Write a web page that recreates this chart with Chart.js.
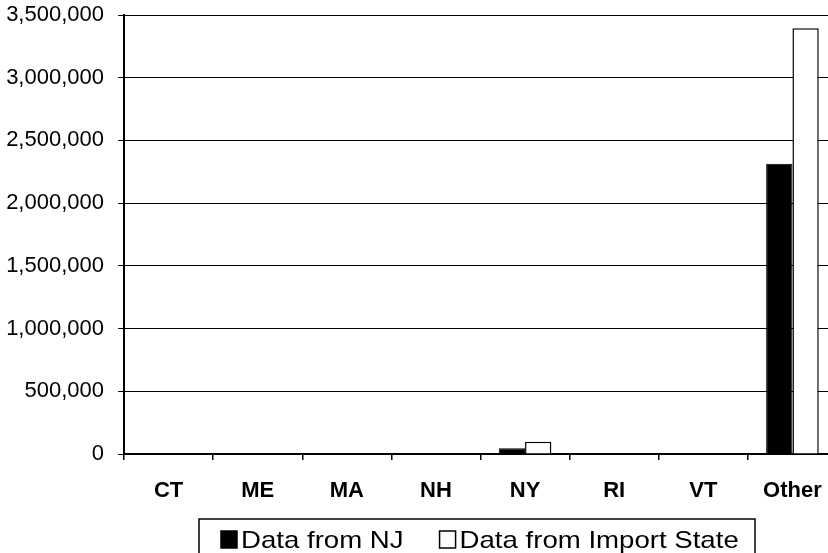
<!DOCTYPE html>
<html>
<head>
<meta charset="utf-8">
<script src="https://cdn.jsdelivr.net/npm/chart.js@4"></script>
<style>
  html, body { margin: 0; padding: 0; background: #fff; overflow: hidden; }
  #canva { width: 840px; height: 553px; }
</style>
</head>
<body>
<div id="canva"><canvas id="myChart" width="840" height="553"></canvas></div>
<script>
var estados = ['CT', 'ME', 'MA', 'NH', 'NY', 'RI', 'VT', 'Other'];
var datosNJ = [0, 0, 0, 0, 45000, 0, 0, 2315000];
var datosImport = [0, 0, 0, 0, 98000, 0, 0, 3395000];
var marcasY = [0, 500000, 1000000, 1500000, 2000000, 2500000, 3000000, 3500000];

// legend drawn by hand, with a frame like the original
const leyenda = {
    id: 'leyenda',
    afterDraw: function (chart) {
        const ctx = chart.ctx;
        const area = chart.chartArea;
        const ancho = 556;
        const x0 = 199;
        const y0 = area.bottom + 65;
        ctx.save();
        ctx.strokeStyle = '#000';
        ctx.lineWidth = 1.5;
        ctx.strokeRect(x0, y0, ancho, 60);
        ctx.font = '24px "Liberation Sans", Arial, sans-serif';
        ctx.textBaseline = 'alphabetic';
        ctx.fillStyle = '#000';
        var x = x0 + 22;
        var base = y0 + 29;
        chart.data.datasets.forEach(function (ds, i) {
            ctx.fillStyle = ds.backgroundColor;
            ctx.fillRect(x, base - 17, 16, 17);
            ctx.strokeStyle = '#000';
            ctx.lineWidth = 1.5;
            ctx.strokeRect(x, base - 17, 16, 17);
            x += 20;
            ctx.save();
            ctx.translate(x, base);
            ctx.scale(1.15, 1);
            ctx.fillStyle = '#000';
            ctx.fillText(ds.label, 0, 0);
            ctx.restore();
            x += ctx.measureText(ds.label).width * 1.15 + 36;
        });
        ctx.restore();
    }
};

const ctx = document.getElementById('myChart').getContext('2d');
const myChart = new Chart(ctx, {
    type: 'bar',
    data: {
        labels: estados,
        datasets: [{
            label: 'Data from NJ',
            data: datosNJ,
            backgroundColor: '#000000',
            borderColor: '#000000',
            borderWidth: 1
        }, {
            label: 'Data from Import State',
            data: datosImport,
            backgroundColor: '#ffffff',
            borderColor: '#000000',
            borderWidth: 1.5
        }]
    },
    options: {
        responsive: false,
        animation: false,
        devicePixelRatio: 1,
        layout: { padding: { top: 15, right: 3, bottom: 39, left: 0 } },
        datasets: {
            bar: { categoryPercentage: 0.59, barPercentage: 1.0 }
        },
        plugins: {
            legend: { display: false },
            tooltip: { enabled: false }
        },
        scales: {
            x: {
                grid: {
                    offset: true,
                    drawOnChartArea: false,
                    color: '#000',
                    tickLength: 6,
                    lineWidth: 1.5
                },
                border: { color: '#000', width: 2 },
                ticks: {
                    color: '#000',
                    padding: 18,
                    maxRotation: 0,
                    font: { family: '"Liberation Sans", Arial, sans-serif', size: 22, weight: 'bold' }
                },
                afterFit: function (scale) {
                    scale.height = 60;
                    scale.paddingLeft = 0;
                    scale.paddingRight = 0;
                }
            },
            y: {
                min: 0,
                max: 3500000,
                afterBuildTicks: function (scale) {
                    scale.ticks = marcasY.map(function (v) { return { value: v }; });
                },
                grid: {
                    color: '#000',
                    lineWidth: 1,
                    tickLength: 6
                },
                border: { color: '#000', width: 2 },
                ticks: {
                    color: '#000',
                    padding: 14,
                    font: { family: '"Liberation Sans", Arial, sans-serif', size: 22 },
                    callback: function (v) { return v.toLocaleString('en-US'); }
                },
                afterFit: function (scale) {
                    scale.width = 124;
                    scale.paddingTop = 0;
                    scale.paddingBottom = 0;
                }
            }
        }
    },
    plugins: [leyenda]
});
</script>
</body>
</html>
